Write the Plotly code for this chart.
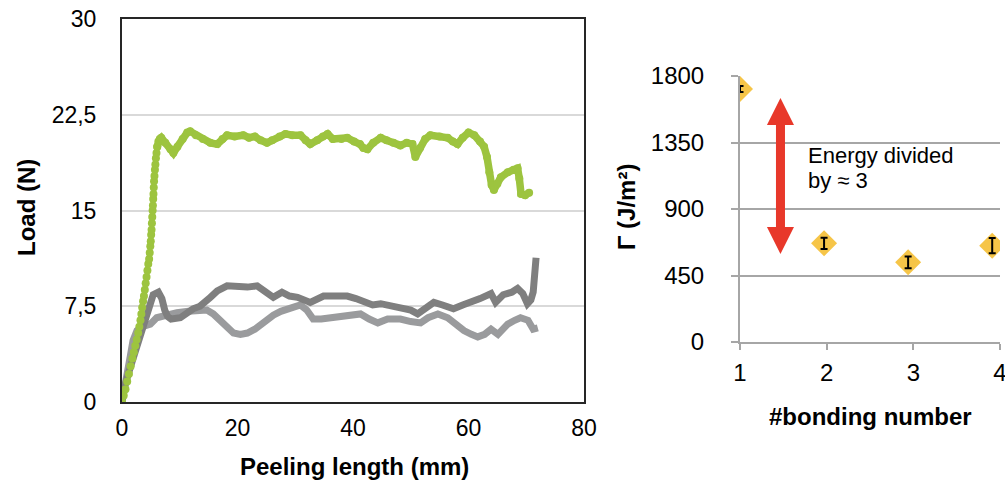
import plotly.graph_objects as go

# ---------------- data: left panel (load vs peeling length) ----------------
green_rise_x = [0, 0.3, 0.6, 0.9, 1.2, 1.5, 1.8, 2.05, 2.3, 2.55, 2.8, 3.0, 3.2, 3.35, 3.5,
                3.65, 3.8, 3.95, 4.1, 4.25, 4.4, 4.55, 4.7, 4.8, 4.9, 4.98, 5.05, 5.12, 5.18,
                5.24, 5.3, 5.35, 5.4, 5.45, 5.5, 5.55, 5.62, 5.7, 5.78, 5.87, 5.97, 6.1]
green_rise_y = [0, 0.5, 1.0, 1.6, 2.2, 2.8, 3.4, 3.9, 4.4, 4.9, 5.4, 5.9, 6.4, 6.9, 7.4,
                7.9, 8.3, 8.8, 9.3, 9.8, 10.3, 10.8, 11.2, 11.7, 12.2, 12.6, 13.1, 13.5, 14.0,
                14.5, 15.0, 15.4, 15.9, 16.3, 16.8, 17.3, 17.7, 18.2, 18.6, 19.1, 19.5, 20.0]
green_plateau_x = [6.1, 6.3, 6.55, 6.8, 7.5, 8.4, 8.9, 9.6, 10.5, 11.3, 11.8, 12.8, 14, 15.3, 16.5,
                   17.4, 18.2, 19.5, 21, 22, 23, 24, 25.1, 26, 27.3, 28.3, 29.5, 30.9, 31.8,
                   32.6, 33.8, 34.8, 35.6, 36.5, 38, 39, 40.2, 41.2, 41.8, 42.5, 43.5, 44.8,
                   45.8, 47, 48.2, 49.3, 50.3, 50.8, 51.6, 52.5, 53.4, 55, 56.4, 57.3, 58.1,
                   59, 60, 61, 62, 62.7, 63.2, 63.6, 64.0, 64.4, 65.0, 65.6, 66.8, 67.8, 68.5,
                   68.8, 69.1, 69.8, 70.5]
green_plateau_y = [20.0, 20.4, 20.6, 20.7, 20.3, 19.8, 19.5, 20.0, 20.6, 21.1, 21.2, 20.9, 20.6,
                   20.3, 20.2, 20.6, 20.9, 20.8, 20.9, 20.7, 20.8, 20.5, 20.3, 20.5, 20.8, 21.0,
                   20.9, 20.9, 20.5, 20.2, 20.5, 20.8, 21.0, 20.6, 20.6, 20.7, 20.4, 20.2, 19.9,
                   19.8, 20.3, 20.7, 20.5, 20.3, 20.1, 20.3, 20.2, 19.2, 19.9, 20.6, 20.9, 20.8,
                   20.7, 20.4, 20.2, 20.7, 21.1, 20.9, 20.4, 20.0, 19.2, 18.0, 17.0, 16.6, 17.1,
                   17.6, 18.0, 18.2, 18.3, 17.5, 16.3, 16.2, 16.4]

dark_x = [0, 0.5, 1.5, 2.6, 3.6, 4.5, 5.4, 6.3, 6.9, 7.4, 7.9, 8.5, 10.1, 12.3, 13.5, 15.3, 16.5,
          18.2, 20, 21.7, 23.4, 24.5, 26.2, 27.7, 29, 30.4, 32.6, 34.9, 37, 39, 40.5, 41.8,
          43.4, 44.8, 46, 48, 50, 51.2, 52.5, 54, 55.5, 57.4, 59, 60.4, 62, 63.9, 64.7, 66,
          67.5, 68.5, 69.4, 70.2, 70.8, 71.2, 71.5, 71.7]
dark_y = [0, 1.3, 2.8, 4.4, 6.0, 7.4, 8.4, 8.6, 8.1, 7.2, 6.7, 6.5, 6.6, 7.3, 7.5, 8.2, 8.7,
          9.1, 9.0, 9.0, 9.1, 8.8, 8.2, 8.6, 8.3, 8.2, 7.8, 8.3, 8.3, 8.3, 8.1, 7.9,
          7.6, 7.7, 7.6, 7.3, 7.2, 6.9, 7.3, 7.8, 7.6, 7.3, 7.6, 7.8, 8.1, 8.5, 7.8, 8.4,
          8.6, 8.9, 8.5, 7.7, 8.0, 8.6, 10.0, 11.3]

light_x = [0, 0.8, 1.4, 1.9, 2.6, 3.5, 4.9, 6.0, 7.5, 9.5, 11.5, 13.5, 14.7, 15.8, 17, 18,
           19.3, 20.5, 21.7, 23, 24, 25, 26.2, 27.5, 28.6, 30, 30.9, 32, 33.1, 34.5, 36.6,
           38.5, 40, 41.3, 42.8, 44.3, 46, 48.2, 50, 51.7, 53, 54.7, 56.4, 57.5, 59.2, 60.5,
           61.6, 62.8, 63.9, 65.1, 66, 66.8, 68, 69, 70.3, 70.8, 71.2, 72]
light_y = [0, 1.7, 3.5, 4.8, 5.6, 5.9, 6.1, 6.6, 6.8, 7.0, 7.1, 7.2, 7.2, 6.9, 6.4, 5.8,
           5.4, 5.3, 5.4, 5.7, 6.1, 6.4, 6.8, 7.1, 7.3, 7.5, 7.6, 7.2, 6.5, 6.5, 6.6,
           6.8, 6.8, 6.9, 6.5, 6.2, 6.5, 6.5, 6.3, 6.2, 6.6, 6.9, 6.6, 6.2, 5.6, 5.3,
           5.1, 5.3, 5.7, 5.3, 5.7, 6.1, 6.4, 6.6, 6.4, 6.0, 5.7, 5.8]

load_ticks = [0, 7.5, 15, 22.5, 30]
load_tick_text = ["0", "7,5", "15", "22,5", "30"]
length_ticks = [0, 20, 40, 60, 80]

# ---------------- data: right panel (fracture energy vs bonding number) ----------------
bonding_x = [1, 1.97, 2.94, 3.91]
gamma = [1712, 668, 539, 652]
gamma_err = [20, 38, 40, 52]
gamma_ticks = [0, 450, 900, 1350, 1800]
bonding_ticks = [1, 2, 3, 4]

# arrow annotation (in right-panel data units)
ARROW_X = 1.467
ARROW_TOP = 1651
ARROW_BOTTOM = 595
HEAD_LEN = 183
HEAD_HALF = 0.156
SHAFT_HALF = 0.052

GREEN = "#9dc43f"
DARK_GREY = "#7f7f7f"
LIGHT_GREY = "#9a9b9d"
FONT = "Liberation Sans, Arial, sans-serif"

W, H = 1005, 481


def px(xp):
    return xp / W


def py(yp):
    return 1 - yp / H


fig = go.Figure()

fig.add_trace(go.Scatter(x=light_x, y=light_y, mode="lines",
                         line=dict(color=LIGHT_GREY, width=7), xaxis="x", yaxis="y",
                         showlegend=False, hoverinfo="skip"))
fig.add_trace(go.Scatter(x=dark_x, y=dark_y, mode="lines",
                         line=dict(color=DARK_GREY, width=7), xaxis="x", yaxis="y",
                         showlegend=False, hoverinfo="skip"))
fig.add_trace(go.Scatter(x=green_plateau_x, y=green_plateau_y, mode="lines",
                         line=dict(color=GREEN, width=7.5), xaxis="x", yaxis="y",
                         showlegend=False, hoverinfo="skip"))
fig.add_trace(go.Scatter(x=green_rise_x + green_plateau_x, y=green_rise_y + green_plateau_y,
                         mode="markers", marker=dict(color=GREEN, size=8),
                         xaxis="x", yaxis="y", showlegend=False, hoverinfo="skip"))

# right panel: diamonds, then error bars on top
fig.add_trace(go.Scatter(x=bonding_x, y=gamma, mode="markers",
                         marker=dict(symbol="diamond", size=20, color="#f6c548", line=dict(width=0)),
                         xaxis="x2", yaxis="y2", showlegend=False, hoverinfo="skip"))
fig.add_trace(go.Scatter(x=bonding_x, y=gamma, mode="markers",
                         marker=dict(size=1, opacity=0),
                         error_y=dict(type="data", array=gamma_err, visible=True,
                                      color="#000000", thickness=2, width=3.5),
                         xaxis="x2", yaxis="y2", showlegend=False, hoverinfo="skip"))

# double-headed red arrow
xl, xr = ARROW_X - SHAFT_HALF, ARROW_X + SHAFT_HALF
hl, hr = ARROW_X - HEAD_HALF, ARROW_X + HEAD_HALF
t_base = ARROW_TOP - HEAD_LEN
b_base = ARROW_BOTTOM + HEAD_LEN
path = (f"M{xl},{t_base} L{hl},{t_base} L{ARROW_X},{ARROW_TOP} L{hr},{t_base} L{xr},{t_base} "
        f"L{xr},{b_base} L{hr},{b_base} L{ARROW_X},{ARROW_BOTTOM} L{hl},{b_base} L{xl},{b_base} Z")
fig.add_shape(type="path", path=path, xref="x2", yref="y2",
              fillcolor="#e8382a", line=dict(width=0), layer="above")

fig.update_layout(
    width=W, height=H, autosize=False,
    margin=dict(l=0, r=0, t=0, b=0, pad=0),
    paper_bgcolor="white", plot_bgcolor="white",
    font=dict(family=FONT, color="#000000", size=22),
    xaxis=dict(domain=[px(122), px(584)], range=[0, 80], tickvals=length_ticks,
               showgrid=False, zeroline=False, showline=True, mirror=True, automargin=False,
               linecolor="#262626", linewidth=2, ticks="", ticklabelstandoff=4,
               tickfont=dict(size=23), anchor="y"),
    yaxis=dict(domain=[py(402), py(19)], range=[0, 30], tickvals=load_ticks,
               ticktext=load_tick_text, showgrid=True, gridcolor="#d9d9d9", gridwidth=1.5,
               zeroline=False, showline=True, mirror=True, linecolor="#262626", linewidth=2,
               automargin=False, ticks="", ticklabelstandoff=19, tickfont=dict(size=23),
               anchor="x"),
    xaxis2=dict(domain=[px(740), px(1000)], range=[1, 4], tickvals=bonding_ticks,
                showgrid=False, zeroline=False, showline=True, linecolor="#a6a6a6",
                automargin=False, linewidth=2, ticks="outside", ticklen=6, tickwidth=2,
                tickcolor="#a6a6a6", ticklabelstandoff=2, ticklabeloverflow="allow",
                tickfont=dict(size=24), anchor="y2"),
    yaxis2=dict(domain=[py(342), py(76)], range=[0, 1800], tickvals=gamma_ticks,
                showgrid=True, gridcolor="#a6a6a6", gridwidth=2, zeroline=False,
                showline=True, linecolor="#a6a6a6", linewidth=2, ticks="outside",
                automargin=False, ticklen=7, tickwidth=2, tickcolor="#a6a6a6",
                ticklabelstandoff=22, tickfont=dict(size=24), anchor="x2"),
)

annos = [
    dict(text="<b>Load (N)</b>", x=px(26), y=py(208), textangle=-90, font=dict(size=24)),
    dict(text="<b>Peeling length (mm)</b>", x=px(354), y=py(466), font=dict(size=24)),
    dict(text="<b>#bonding number</b>", x=px(870), y=py(416), font=dict(size=24)),
    dict(text="<b>Γ (J/m²)</b>", x=px(626), y=py(207), textangle=-90, font=dict(size=24)),
    dict(text="Energy divided", x=px(806), y=py(155), xanchor="left", font=dict(size=22)),
    dict(text="by ≈ 3", x=px(806), y=py(181), xanchor="left", font=dict(size=22)),
]
for a in annos:
    base = dict(xref="paper", yref="paper", showarrow=False, xanchor="center", yanchor="middle")
    base.update(a)
    fig.add_annotation(**base)

fig.write_html("out.html", config={"displayModeBar": False},
               post_script="document.body.style.margin='0px';document.body.style.overflow='hidden';")
